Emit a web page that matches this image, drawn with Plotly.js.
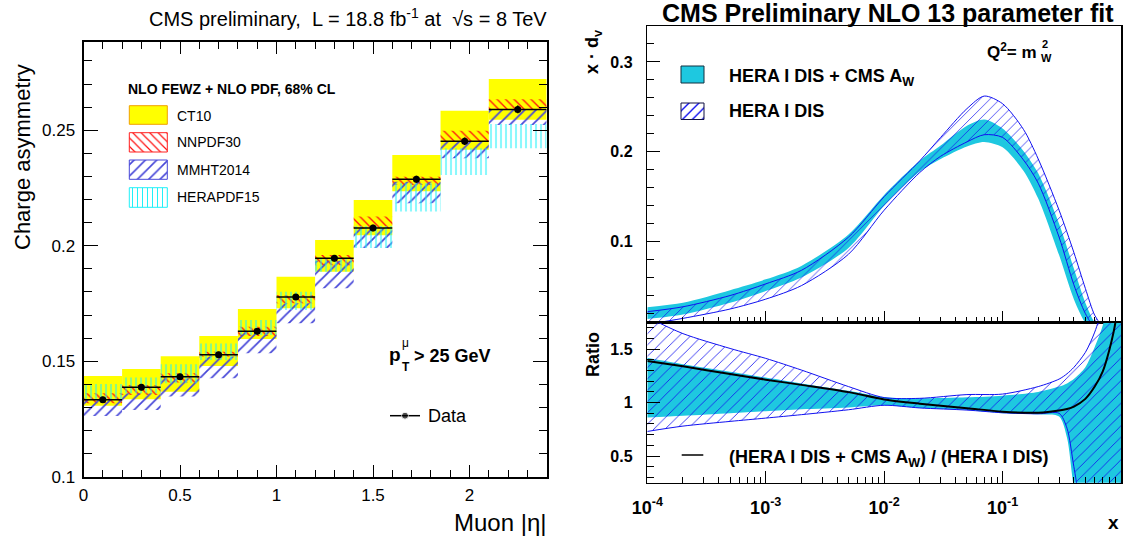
<!DOCTYPE html>
<html><head><meta charset="utf-8">
<script src="https://cdn.plot.ly/plotly-3.0.1.min.js"></script>
<style>html,body{margin:0;padding:0;background:#fff}#chart{width:1128px;height:540px}</style>
</head><body><div id="chart"></div>
<script>
// ---------- Left panel: W charge asymmetry vs muon |eta| ----------
const binLo = [0, 0.2, 0.4, 0.6, 0.8, 1.0, 1.2, 1.4, 1.6, 1.85, 2.1];
const binHi = [0.2, 0.4, 0.6, 0.8, 1.0, 1.2, 1.4, 1.6, 1.85, 2.1, 2.4];
const dataA   = [0.1333, 0.1387, 0.1433, 0.1528, 0.1630, 0.1778, 0.1946, 0.2077, 0.2288, 0.2452, 0.2590];
const dataErr = [0.0013, 0.0013, 0.0013, 0.0013, 0.0013, 0.0013, 0.0014, 0.0014, 0.0015, 0.0016, 0.0017];
const ct10Lo  = [0.1307, 0.1335, 0.1368, 0.1479, 0.1596, 0.1729, 0.1887, 0.2045, 0.2236, 0.2415, 0.2545];
const ct10Hi  = [0.1436, 0.1466, 0.1522, 0.1609, 0.1726, 0.1866, 0.2025, 0.2198, 0.2393, 0.2584, 0.2722];
const nnpdfLo = [0.1318, 0.1354, 0.1408, 0.1520, 0.1609, 0.1751, 0.1915, 0.2075, 0.2263, 0.2451, 0.2588];
const nnpdfHi = [0.1361, 0.1397, 0.1448, 0.1541, 0.1649, 0.1787, 0.1960, 0.2126, 0.2299, 0.2498, 0.2634];
const mmhtLo  = [0.1263, 0.1289, 0.1347, 0.1426, 0.1534, 0.1664, 0.1816, 0.1990, 0.2184, 0.2379, 0.2523];
const mmhtHi  = [0.1335, 0.1361, 0.1426, 0.1520, 0.1628, 0.1751, 0.1935, 0.2077, 0.2277, 0.2451, 0.2588];
const heraLo  = [0.1332, 0.1361, 0.1405, 0.1505, 0.1613, 0.1722, 0.1887, 0.1990, 0.2148, 0.2306, 0.2422];
const heraHi  = [0.1401, 0.1430, 0.1487, 0.1577, 0.1678, 0.1801, 0.1945, 0.2085, 0.2270, 0.2422, 0.2527];

// ---------- Right panel: x*d_v at Q^2 = m_W^2 ----------
const xs     = [1e-4, 2e-4, 5e-4, 1e-3, 2e-3, 5e-3, 0.01, 0.02, 0.03, 0.05, 0.07, 0.1, 0.15, 0.2, 0.3, 0.4, 0.5, 0.6, 0.7];
const cmsHi  = [0.027, 0.032, 0.046, 0.058, 0.073, 0.108, 0.152, 0.190, 0.207, 0.229, 0.236, 0.226, 0.201, 0.176, 0.120, 0.070, 0.032, 0.010, 0.002];
const cmsLo  = [0.014, 0.019, 0.032, 0.045, 0.060, 0.093, 0.140, 0.178, 0.192, 0.206, 0.211, 0.205, 0.179, 0.148, 0.085, 0.036, 0.010, 0.001, 0.000];
const disHi  = [0.022, 0.0275, 0.040, 0.053, 0.068, 0.105, 0.150, 0.190, 0.216, 0.248, 0.262, 0.2535, 0.225, 0.192, 0.135, 0.088, 0.048, 0.018, 0.005];
const disLo  = [0.008, 0.0146, 0.025, 0.036, 0.051, 0.086, 0.135, 0.177, 0.195, 0.211, 0.219, 0.216, 0.191, 0.165, 0.105, 0.052, 0.020, 0.004, 0.000];

// ratio pad
const rxs     = [1e-4, 2e-4, 5e-4, 1e-3, 2e-3, 5e-3, 0.01, 0.02, 0.05, 0.1, 0.2, 0.3, 0.35, 0.4, 0.5, 0.6, 0.7, 0.8, 0.9, 1.0];
const ratio   = [1.39, 1.34, 1.267, 1.215, 1.166, 1.098, 1.03, 0.99, 0.948, 0.915, 0.905, 0.925, 0.94, 0.963, 1.035, 1.15, 1.29, 1.50, 1.76, 2.3];
const rDisHi  = [1.80, 1.646, 1.507, 1.414, 1.305, 1.15, 1.047, 1.04, 1.075, 1.08, 1.15, 1.22, 1.27, 1.33, 1.47, 1.66, 1.90, 2.2, 2.5, 2.8];
const rDisLo  = [0.73, 0.78, 0.824, 0.855, 0.887, 0.933, 0.975, 0.95, 0.93, 0.905, 0.895, 0.90, 0.76, 0.40, -0.2, -0.4, -0.4, -0.4, -0.4, -0.4];
const rCmsHi  = [1.42, 1.36, 1.29, 1.235, 1.18, 1.11, 1.05, 1.04, 1.05, 1.065, 1.10, 1.15, 1.18, 1.22, 1.33, 1.52, 1.72, 2.0, 2.3, 2.6];
const rCmsLo  = [0.86, 0.876, 0.90, 0.92, 0.938, 0.955, 0.975, 0.95, 0.93, 0.90, 0.89, 0.87, 0.67, 0.20, -0.3, -0.4, -0.4, -0.4, -0.4, -0.4];

const FONT = 'Liberation Sans, Arial, Helvetica, sans-serif';
const W = 1128, H = 540;
const px = v => v / W, py = v => 1 - v / H;

const centers = binLo.map((l, i) => (l + binHi[i]) / 2);
const widths  = binLo.map((l, i) => binHi[i] - l);
const halfW   = widths.map(w => w / 2);

function band(lo, hi, color, pattern, size) {
  const m = { color: color, line: { width: 0 } };
  if (pattern) m.pattern = { shape: pattern, fillmode: 'replace', size: size || 8, solidity: 0.22 };
  return { type: 'bar', x: centers, width: widths, base: lo, y: hi.map((h, i) => h - lo[i]),
           marker: m, xaxis: 'x', yaxis: 'y', hoverinfo: 'skip' };
}

const traces = [];
traces.push(band(ct10Lo, ct10Hi, '#ffff00', null));
traces.push(band(nnpdfLo, nnpdfHi, '#ff1010', '\\', 6));
traces.push(band(mmhtLo, mmhtHi, '#4646d8', '/', 8));
traces.push(band(heraLo, heraHi, '#22f0f8', '|', 5));
traces.push({ type: 'scatter', mode: 'markers', x: centers, y: dataA, xaxis: 'x', yaxis: 'y',
  marker: { color: 'black', size: 7 },
  error_x: { type: 'data', array: halfW, color: 'black', thickness: 1.6, width: 0 },
  error_y: { type: 'data', array: dataErr, color: 'black', thickness: 1.6, width: 0 } });

// top-right pad
const sp = { shape: 'spline', smoothing: 0.8 };
traces.push({ type: 'scatter', mode: 'lines', x: xs, y: cmsLo, xaxis: 'x2', yaxis: 'y2', line: Object.assign({ width: 0, color: '#1ec8e0' }, sp) });
traces.push({ type: 'scatter', mode: 'lines', x: xs, y: cmsHi, xaxis: 'x2', yaxis: 'y2', fill: 'tonexty', fillcolor: '#1ec8e0', line: Object.assign({ width: 0, color: '#1ec8e0' }, sp) });
traces.push({ type: 'scatter', mode: 'lines', x: xs, y: disLo, xaxis: 'x2', yaxis: 'y2', line: Object.assign({ width: 1, color: '#1010f0' }, sp) });
traces.push({ type: 'scatter', mode: 'lines', x: xs, y: disHi, xaxis: 'x2', yaxis: 'y2', fill: 'tonexty', fillcolor: 'rgba(0,0,0,0)',
  fillpattern: { shape: '/', fgcolor: '#1010f0', bgcolor: 'rgba(0,0,0,0)', size: 7, solidity: 0.1 },
  line: Object.assign({ width: 1, color: '#1010f0' }, sp) });

// ratio pad
traces.push({ type: 'scatter', mode: 'lines', x: rxs, y: rCmsLo, xaxis: 'x3', yaxis: 'y3', line: Object.assign({ width: 0, color: '#1ec8e0' }, sp) });
traces.push({ type: 'scatter', mode: 'lines', x: rxs, y: rCmsHi, xaxis: 'x3', yaxis: 'y3', fill: 'tonexty', fillcolor: '#1ec8e0', line: Object.assign({ width: 0, color: '#1ec8e0' }, sp) });
traces.push({ type: 'scatter', mode: 'lines', x: rxs, y: rDisLo, xaxis: 'x3', yaxis: 'y3', line: Object.assign({ width: 1, color: '#1010f0' }, sp) });
traces.push({ type: 'scatter', mode: 'lines', x: rxs, y: rDisHi, xaxis: 'x3', yaxis: 'y3', fill: 'tonexty', fillcolor: 'rgba(0,0,0,0)',
  fillpattern: { shape: '/', fgcolor: '#1010f0', bgcolor: 'rgba(0,0,0,0)', size: 8, solidity: 0.1 },
  line: Object.assign({ width: 1, color: '#1010f0' }, sp) });
traces.push({ type: 'scatter', mode: 'lines', x: rxs, y: ratio, xaxis: 'x3', yaxis: 'y3', line: Object.assign({ width: 2, color: 'black' }, sp) });

// legend swatches (pixel overlay axes)
function box(x0, x1, y0, y1, fill, line, pat) {
  const t = { type: 'scatter', mode: 'lines', x: [x0, x1, x1, x0, x0], y: [y0, y0, y1, y1, y0], xaxis: 'x4', yaxis: 'y4',
    fill: 'toself', fillcolor: fill, line: { color: line, width: 1 }, hoverinfo: 'skip' };
  if (pat) t.fillpattern = { shape: pat.shape, fgcolor: pat.fg, bgcolor: 'rgba(0,0,0,0)', size: pat.size, solidity: 0.2 };
  return t;
}
traces.push(box(129.3, 167.3, 105.7, 124.3, '#ffff00', '#f0a000'));
traces.push(box(129.3, 167.3, 132.7, 152, 'rgba(0,0,0,0)', '#ff2020', { shape: '\\', fg: '#ff1010', size: 6 }));
traces.push(box(129.3, 167.3, 160, 179.3, 'rgba(0,0,0,0)', '#4646d8', { shape: '/', fg: '#4646d8', size: 8 }));
traces.push(box(129.3, 167.3, 187.7, 207.3, 'rgba(0,0,0,0)', '#22f0f8', { shape: '|', fg: '#22f0f8', size: 5 }));
traces.push(box(681, 704, 66, 83, '#1ec8e0', '#103040'));
traces.push(box(681, 704, 103, 119.5, 'rgba(0,0,0,0)', '#101040', { shape: '/', fg: '#1010f0', size: 7 }));
traces.push({ type: 'scatter', mode: 'lines+markers', x: [390, 405, 420], y: [415.7, 415.7, 415.7], xaxis: 'x4', yaxis: 'y4',
  line: { color: 'black', width: 1.5 }, marker: { color: 'black', size: [0, 7, 0] } });
traces.push({ type: 'scatter', mode: 'lines', x: [681.7, 703.3], y: [455, 455], xaxis: 'x4', yaxis: 'y4', line: { color: 'black', width: 1.5 } });

const minorLog = [];
for (let e = -4; e < 0; e++) for (let k = 2; k <= 9; k++) minorLog.push(k * Math.pow(10, e));

const tfL = { family: FONT, size: 17, color: 'black' };
const tfR = { family: FONT, size: 16, color: 'black', weight: 'bold' };

function ann(text, x, y, size, opts) {
  return Object.assign({ text: text, x: px(x), y: py(y), xref: 'paper', yref: 'paper', xanchor: 'left', yanchor: 'middle',
    showarrow: false, font: { family: FONT, size: size, color: 'black' } }, opts || {});
}
const B = s => ({ family: FONT, size: s, color: 'black', weight: 'bold' });

const layout = {
  width: W, height: H, margin: { l: 0, r: 0, t: 0, b: 0 },
  paper_bgcolor: 'white', plot_bgcolor: 'rgba(0,0,0,0)', showlegend: false, barmode: 'overlay',
  font: { family: FONT, color: 'black' },
  xaxis: { domain: [px(83.5), px(546.7)], range: [0, 2.4], anchor: 'y', showgrid: false, zeroline: false,
    tickvals: [0, 0.5, 1, 1.5, 2], ticktext: ['0', '0.5', '1', '1.5', '2'], ticks: 'inside', ticklen: 12, tickwidth: 1, tickcolor: 'black',
    minor: { dtick: 0.1, tick0: 0, ticks: 'inside', ticklen: 7, tickcolor: 'black' },
    showline: true, linewidth: 2, linecolor: 'black', mirror: 'ticks', tickfont: tfL, ticklabelstandoff: 2 },
  yaxis: { domain: [py(476.7), py(42)], range: [0.1, 0.2882], anchor: 'x', showgrid: false, zeroline: false,
    tickvals: [0.1, 0.15, 0.2, 0.25], ticktext: ['0.1', '0.15', '0.2', '0.25'], ticks: 'inside', ticklen: 14, tickwidth: 1, tickcolor: 'black',
    minor: { dtick: 0.01, tick0: 0.1, ticks: 'inside', ticklen: 8, tickcolor: 'black' },
    showline: true, linewidth: 2, linecolor: 'black', mirror: 'ticks', tickfont: tfL, ticklabelstandoff: 3 },
  xaxis2: { type: 'log', domain: [px(647.3), px(1121)], range: [-4, 0], anchor: 'y2', showgrid: false, zeroline: false,
    tickvals: [1e-4, 1e-3, 1e-2, 1e-1], showticklabels: false, ticks: 'inside', ticklen: 12, tickcolor: 'black',
    minor: { tickvals: minorLog, ticks: 'inside', ticklen: 6, tickcolor: 'black' },
    showline: true, linewidth: 1.5, linecolor: 'black', mirror: true },
  yaxis2: { domain: [py(322.5), py(26)], range: [0.01, 0.34], anchor: 'x2', showgrid: false, zeroline: false,
    tickvals: [0.1, 0.2, 0.3], ticktext: ['0.1', '0.2', '0.3'], ticks: 'inside', ticklen: 13, tickcolor: 'black',
    minor: { dtick: 0.02, tick0: 0, ticks: 'inside', ticklen: 7, tickcolor: 'black' },
    showline: true, linewidth: 1.5, linecolor: 'black', mirror: true, tickfont: tfR, ticklabelstandoff: 10 },
  xaxis3: { type: 'log', domain: [px(647.3), px(1121)], range: [-4, 0], anchor: 'y3', showgrid: false, zeroline: false,
    tickvals: [1e-4, 1e-3, 1e-2, 1e-1], ticktext: ['10<sup>-4</sup>', '10<sup>-3</sup>', '10<sup>-2</sup>', '10<sup>-1</sup>'],
    ticks: 'inside', ticklen: 12, tickcolor: 'black',
    minor: { tickvals: minorLog, ticks: 'inside', ticklen: 6, tickcolor: 'black' },
    showline: true, linewidth: 1.5, linecolor: 'black', mirror: true,
    tickfont: { family: FONT, size: 18, color: 'black', weight: 'bold' }, ticklabelstandoff: 8 },
  yaxis3: { domain: [py(482.7), py(322.5)], range: [0.25, 1.75], anchor: 'x3', showgrid: false, zeroline: false,
    tickvals: [0.5, 1, 1.5], ticktext: ['0.5', '1', '1.5'], ticks: 'inside', ticklen: 13, tickcolor: 'black',
    minor: { dtick: 0.1, tick0: 0, ticks: 'inside', ticklen: 7, tickcolor: 'black' },
    showline: true, linewidth: 1.5, linecolor: 'black', mirror: true, tickfont: tfR, ticklabelstandoff: 10 },
  xaxis4: { domain: [0, 1], range: [0, W], anchor: 'y4', visible: false, fixedrange: true },
  yaxis4: { domain: [0, 1], range: [H, 0], anchor: 'x4', visible: false, fixedrange: true },
  annotations: [
    ann('CMS preliminary,  L = 18.8 fb<sup>-1</sup> at  √s = 8 TeV', 549, 18, 20, { xanchor: 'right' }),
    ann('Charge asymmetry', 22, 157, 22, { xanchor: 'center', textangle: -90 }),
    ann('Muon |η|', 549, 522, 24, { xanchor: 'right' }),
    ann('NLO FEWZ + NLO PDF, 68% CL', 126, 89.3, 14, { font: B(14) }),
    ann('CT10', 175, 115.5, 14),
    ann('NNPDF30', 175, 142.5, 14),
    ann('MMHT2014', 175, 170, 14),
    ann('HERAPDF15', 175, 197.5, 14),
    ann('p', 387, 354, 19, { font: B(19) }),
    ann('T', 399.5, 367, 12, { font: B(12) }),
    ann('μ', 400, 343, 12),
    ann('> 25 GeV', 412, 356, 18, { font: B(18) }),
    ann('Data', 426, 415.7, 18),
    // right panel
    ann('CMS Preliminary NLO 13 parameter fit', 888, 13, 25, { xanchor: 'center', font: B(25) }),
    ann('x · d<sub>v</sub>', 593, 52, 18, { xanchor: 'center', textangle: -90, font: B(18) }),
    ann('Ratio', 593, 355, 18, { xanchor: 'center', textangle: -90, font: B(18) }),
    ann('x', 1113, 522, 19, { xanchor: 'center', font: B(19) }),
    ann('Q<sup>2</sup>= m', 985, 51, 17, { font: B(17) }),
    ann('2', 1040, 44, 11, { font: B(11) }),
    ann('W', 1039, 58, 11, { font: B(11) }),
    ann('HERA I DIS + CMS A<sub>W</sub>', 727, 77, 18, { font: B(18) }),
    ann('HERA I DIS', 727, 111, 18, { font: B(18) }),
    ann('(HERA I DIS + CMS A<sub>W</sub>) / (HERA I DIS)', 727, 458, 18, { font: B(18) })
  ]
};

Plotly.newPlot('chart', traces, layout, { staticPlot: true, displayModeBar: false });
</script>
</body></html>
